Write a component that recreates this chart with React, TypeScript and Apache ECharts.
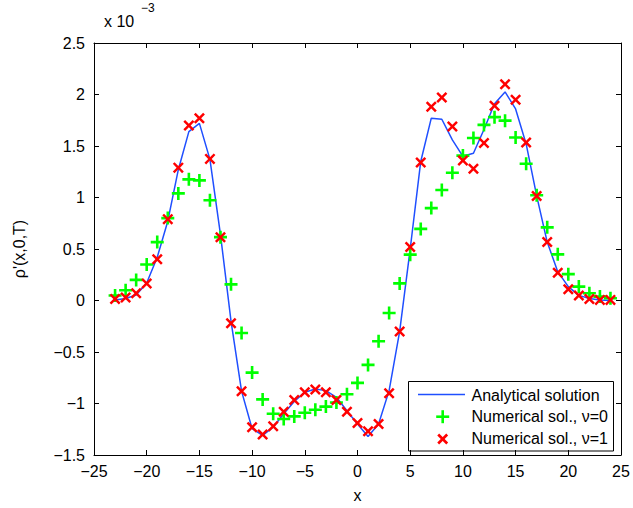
import React, { useEffect, useRef } from "react";
import * as echarts from "echarts";

const xValues = [
  -23, -22, -21, -20, -19, -18, -17, -16, -15, -14, -13, -12, -11, -10, -9, -8,
  -7, -6, -5, -4, -3, -2, -1, 0, 1, 2, 3, 4, 5, 6, 7, 8, 9, 10, 11, 12, 13, 14,
  15, 16, 17, 18, 19, 20, 21, 22, 23, 24,
];

// values in units of 1e-3
const analytical = [
  0.006, 0.02, 0.054, 0.17, 0.42, 0.77, 1.27, 1.64, 1.72, 1.37, 0.64, -0.2,
  -0.88, -1.245, -1.31, -1.23, -1.1, -0.98, -0.89, -0.86, -0.875, -0.94, -1.07,
  -1.2, -1.32, -1.2, -0.875, -0.3, 0.5, 1.35, 1.77, 1.76, 1.56, 1.4, 1.43, 1.66,
  1.91, 2.025, 1.86, 1.52, 1.015, 0.567, 0.28, 0.135, 0.05, 0.02, 0.005, 0.0,
];

const numericalNu0 = [
  0.048, 0.1, 0.2, 0.35, 0.567, 0.8, 1.04, 1.176, 1.166, 0.974, 0.615, 0.157,
  -0.315, -0.7, -0.96, -1.1, -1.15, -1.125, -1.09, -1.06, -1.03, -0.99, -0.91,
  -0.8, -0.625, -0.395, -0.122, 0.166, 0.445, 0.695, 0.897, 1.073, 1.24, 1.407,
  1.577, 1.705, 1.78, 1.746, 1.583, 1.327, 1.022, 0.71, 0.448, 0.256, 0.135,
  0.07, 0.038, 0.022,
];

const numericalNu1 = [
  0.015, 0.03, 0.07, 0.166, 0.4, 0.79, 1.29, 1.7, 1.77, 1.375, 0.615, -0.22,
  -0.88, -1.23, -1.3, -1.22, -1.08, -0.965, -0.89, -0.865, -0.89, -0.965, -1.08,
  -1.19, -1.27, -1.2, -0.9, -0.3, 0.52, 1.34, 1.88, 1.97, 1.69, 1.36, 1.28, 1.53,
  1.89, 2.1, 1.95, 1.535, 1.015, 0.567, 0.27, 0.11, 0.048, 0.015, 0.006, 0.006,
];

const seriesNames = [
  "Analytical solution",
  "Numerical sol., \u03bd=0",
  "Numerical sol., \u03bd=1",
];

const FONT = "'Liberation Sans', Arial, Helvetica, sans-serif";
const BLUE = "#1f4fff";
const GREEN = "#00ff00";
const RED = "#ff0000";

const PLUS_PATH =
  "path://M5.2,0H7.8V5.2H13V7.8H7.8V13H5.2V7.8H0V5.2H5.2Z";
const CROSS_PATH =
  "path://M0,1.9L1.9,0L6,4.1L10.1,0L12,1.9L7.9,6L12,10.1L10.1,12L6,7.9L1.9,12L0,10.1L4.1,6Z";

const minusFmt = (v: number) => String(v).replace("-", "\u2212");

export default function App() {
  const ref = useRef<HTMLDivElement>(null);

  useEffect(() => {
    if (!ref.current) return;
    const chart = echarts.init(ref.current, undefined, { renderer: "svg" });

    const toPairs = (ys: number[]) => xValues.map((x, i) => [x, ys[i]]);

    const axisCommon = {
      axisLine: { show: true, onZero: false, lineStyle: { color: "#000", width: 1 } },
      axisTick: { show: true, inside: true, length: 5, lineStyle: { color: "#000" } },
      splitLine: { show: false },
    };

    const lx = 408.5;
    const ly = 381.5;

    chart.setOption({
      animation: false,
      backgroundColor: "#fff",
      textStyle: { fontFamily: FONT },
      grid: { left: 94, top: 43, width: 527, height: 415, containLabel: false },
      xAxis: [
        {
          type: "value",
          min: -25,
          max: 25,
          interval: 5,
          position: "bottom",
          name: "x",
          nameLocation: "middle",
          nameGap: 32,
          nameTextStyle: { fontSize: 16, color: "#000", fontFamily: FONT },
          axisLabel: {
            fontSize: 16,
            color: "#000",
            margin: 8,
            fontFamily: FONT,
            formatter: minusFmt,
          },
          ...axisCommon,
        },
        {
          type: "value",
          min: -25,
          max: 25,
          interval: 5,
          position: "top",
          axisLabel: { show: false },
          ...axisCommon,
        },
      ],
      yAxis: [
        {
          type: "value",
          min: -1.5,
          max: 2.5,
          interval: 0.5,
          position: "left",
          name: "\u03c1'(x,0,T)",
          nameLocation: "middle",
          nameGap: 67,
          nameRotate: 90,
          nameTextStyle: { fontSize: 16, color: "#000", fontFamily: FONT },
          axisLabel: {
            fontSize: 16,
            color: "#000",
            margin: 9,
            fontFamily: FONT,
            formatter: minusFmt,
          },
          ...axisCommon,
        },
        {
          type: "value",
          min: -1.5,
          max: 2.5,
          interval: 0.5,
          position: "right",
          axisLabel: { show: false },
          ...axisCommon,
        },
      ],
      series: [
        {
          name: seriesNames[0],
          type: "line",
          xAxisIndex: 0,
          yAxisIndex: 0,
          data: toPairs(analytical),
          showSymbol: false,
          symbol: "none",
          lineStyle: { color: BLUE, width: 1.5 },
          itemStyle: { color: BLUE },
          z: 2,
        },
        {
          name: seriesNames[1],
          type: "scatter",
          xAxisIndex: 0,
          yAxisIndex: 0,
          data: toPairs(numericalNu0),
          symbol: PLUS_PATH,
          symbolSize: 13,
          itemStyle: { color: GREEN, opacity: 1 },
          z: 3,
        },
        {
          name: seriesNames[2],
          type: "scatter",
          xAxisIndex: 0,
          yAxisIndex: 0,
          data: toPairs(numericalNu1),
          symbol: CROSS_PATH,
          symbolSize: 11,
          itemStyle: { color: RED, opacity: 1 },
          z: 4,
        },
      ],
      graphic: [
        {
          type: "text",
          x: 104,
          y: 21,
          style: {
            text: "x 10",
            fontSize: 16,
            fill: "#000",
            fontFamily: FONT,
            verticalAlign: "middle",
          },
        },
        {
          type: "text",
          x: 141,
          y: 8,
          style: {
            text: "\u22123",
            fontSize: 12,
            fill: "#000",
            fontFamily: FONT,
            verticalAlign: "middle",
          },
        },
        {
          type: "group",
          z: 100,
          children: [
            {
              type: "rect",
              shape: { x: lx, y: ly, width: 205, height: 69.5 },
              style: { fill: "#fff", stroke: "#000", lineWidth: 1 },
            },
            {
              type: "line",
              shape: { x1: 418, y1: 394.5, x2: 465, y2: 394.5 },
              style: { stroke: BLUE, lineWidth: 1.5 },
            },
            {
              type: "line",
              shape: { x1: 436.2, y1: 416.7, x2: 449.2, y2: 416.7 },
              style: { stroke: GREEN, lineWidth: 2.6 },
            },
            {
              type: "line",
              shape: { x1: 442.7, y1: 410.2, x2: 442.7, y2: 423.2 },
              style: { stroke: GREEN, lineWidth: 2.6 },
            },
            {
              type: "line",
              shape: { x1: 438.2, y1: 434.5, x2: 447.2, y2: 443.5 },
              style: { stroke: RED, lineWidth: 2.6 },
            },
            {
              type: "line",
              shape: { x1: 447.2, y1: 434.5, x2: 438.2, y2: 443.5 },
              style: { stroke: RED, lineWidth: 2.6 },
            },
            {
              type: "text",
              x: 471.5,
              y: 395,
              style: {
                text: seriesNames[0],
                fontSize: 16,
                fill: "#000",
                fontFamily: FONT,
                verticalAlign: "middle",
              },
            },
            {
              type: "text",
              x: 471.5,
              y: 416.7,
              style: {
                text: seriesNames[1],
                fontSize: 16,
                fill: "#000",
                fontFamily: FONT,
                verticalAlign: "middle",
              },
            },
            {
              type: "text",
              x: 471.5,
              y: 438.5,
              style: {
                text: seriesNames[2],
                fontSize: 16,
                fill: "#000",
                fontFamily: FONT,
                verticalAlign: "middle",
              },
            },
          ],
        },
      ],
    });

    return () => chart.dispose();
  }, []);

  return (
    <div
      ref={ref}
      style={{
        position: "fixed",
        left: 0,
        top: 0,
        width: 633,
        height: 508,
        background: "#fff",
      }}
    />
  );
}
